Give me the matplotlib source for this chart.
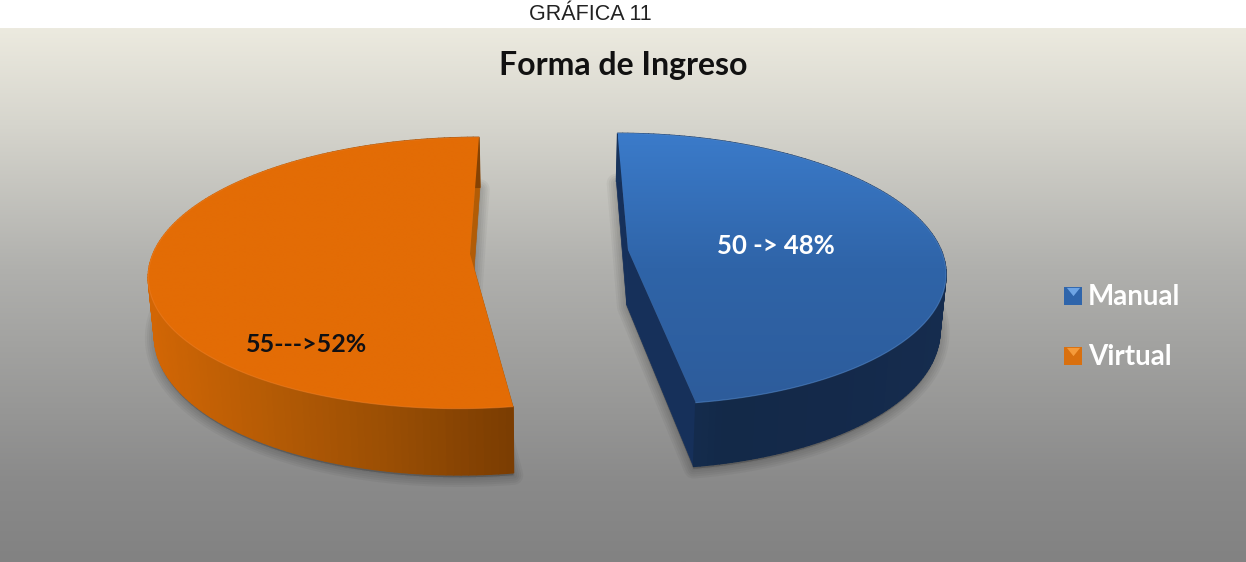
import matplotlib
matplotlib.use("Agg")
import matplotlib.pyplot as plt
import numpy as np
from matplotlib.collections import PolyCollection
from matplotlib.colors import LinearSegmentedColormap
from matplotlib.patches import Polygon

titulo_externo = "GRÁFICA 11"
titulo = "Forma de Ingreso"
categorias = ["Manual", "Virtual"]
valores = [50, 55]
etiquetas = ["50 -> 48%", "55--->52%"]

# perspectiva del pastel
FUGA_X = 543
PERSP = 0.14
ALTO = 133
PROF = 55

centros = [(628, 250), (470, 254)]
radios = [313, 317]
profundidades = [55, 57]
colores_etiqueta = ["white", "#101014"]
pos_etiqueta = [(776, 246), (307, 345)]
tam_etiqueta = [18.5, 18]
pos_leyenda = [296, 356]
MARCA_SOBRE = [(-1, 1), (1, 1), (0, -0.25)]


def proyectar(cx, cy, a, theta, r=1.0, prof=0.0):
    u = r * np.sin(theta)
    v = r * np.cos(theta)
    k = 1 / (1 + PERSP * v)
    esc = 1 - 0.015 * (prof / PROF)
    x = FUGA_X + (cx - FUGA_X + a * u) * k * esc
    y = cy + (-ALTO * v + prof) * k
    return x, y


def borde_superior(cx, cy, a, t0, t1, prof=0.0):
    theta = np.linspace(t0, t1, 160)
    x, y = proyectar(cx, cy, a, theta, prof=prof)
    ax0, ay0 = proyectar(cx, cy, a, 0.0, r=0.0, prof=prof)
    return np.column_stack([x, y]), np.array([ax0, ay0])


def relleno_gradiente(ax, cmap, extent, vertical=True, clip=None, zorder=1):
    n = np.linspace(0, 1, 256)
    img = n[:, None] if vertical else n[None, :]
    im = ax.imshow(img, cmap=cmap, extent=extent, aspect="auto", zorder=zorder,
                   vmin=0, vmax=1, interpolation="bilinear", origin="upper")
    if clip is not None:
        im.set_clip_path(clip)
    return im


fig = plt.figure(figsize=(12.46, 5.62), dpi=100)
ax = fig.add_axes([0, 0, 1, 1])

cm_fondo = LinearSegmentedColormap.from_list(
    "fondo", [(0, "#ecEAdf"), (0.18, "#d6d5cd"), (0.45, "#b0b0ad"), (0.85, "#8a8a8a"), (1, "#828282")])
relleno_gradiente(ax, cm_fondo, (0, 1246, 562, 28), zorder=0)

cm_azul = LinearSegmentedColormap.from_list("azul", ["#3b7bca", "#2f64a8", "#2d5c9b"])
cm_naranja = LinearSegmentedColormap.from_list("naranja", ["#e36c05", "#e36c05"])
cm_pared_azul = LinearSegmentedColormap.from_list("pared_azul", ["#17335c", "#132948", "#14294a", "#152c4e"])
cm_pared_naranja = LinearSegmentedColormap.from_list("pared_naranja", ["#d26605", "#b55b05", "#9a4e04", "#7b3d02"])

mapas_top = [cm_azul, cm_naranja]
mapas_pared = [cm_pared_azul, cm_pared_naranja]
colores_radial = ["#16305a", "#b25c06"]
colores_borde = ["#5c93d6", "#f0812a"]

angulos = np.cumsum([0] + valores) / sum(valores) * 2 * np.pi

for i in range(len(valores)):
    cx, cy = centros[i]
    a = radios[i]
    d = profundidades[i]
    t0, t1 = angulos[i], angulos[i + 1]

    arco, apice = borde_superior(cx, cy, a, t0, t1)
    arco_b, apice_b = borde_superior(cx, cy, a, t0, t1, prof=d)
    arco_s, apice_s = borde_superior(cx, cy, a, t0, t1, prof=d + 2)

    # sombra difusa
    forma_s = np.vstack([apice_s, arco_s])
    for lw in [14, 11, 8, 5, 2]:
        ax.add_patch(Polygon(forma_s, closed=True, facecolor=(0, 0, 0, 0.04),
                             edgecolor=(0, 0, 0, 0.04), lw=lw, zorder=2, joinstyle="round"))

    # paredes rectas
    for extremo, extremo_b in [(arco[0], arco_b[0]), (arco[-1], arco_b[-1])]:
        ax.add_patch(Polygon([apice, extremo, extremo_b, apice_b], closed=True,
                             facecolor=colores_radial[i], edgecolor=colores_radial[i], lw=0.5, zorder=3))

    # pared curva
    cuads = [[arco[j], arco[j + 1], arco_b[j + 1], arco_b[j]] for j in range(len(arco) - 1)]
    xs = arco[:-1, 0]
    col = PolyCollection(cuads, cmap=mapas_pared[i], zorder=4)
    col.set_array((xs - xs.min()) / (xs.max() - xs.min()))
    col.set_edgecolor("face")
    col.set_linewidth(1.0)
    ax.add_collection(col)

    # cara superior
    forma = np.vstack([apice, arco])
    borde = Polygon(forma, closed=True, facecolor="none", edgecolor="none", transform=ax.transData)
    ax.add_patch(borde)
    relleno_gradiente(ax, mapas_top[i], (forma[:, 0].min(), forma[:, 0].max(), forma[:, 1].max(), forma[:, 1].min()),
                      clip=borde, zorder=5)
    ax.plot(arco[:, 0], arco[:, 1], color=colores_borde[i], lw=0.8, alpha=0.5, zorder=6)

    ax.text(pos_etiqueta[i][0], pos_etiqueta[i][1], etiquetas[i], color=colores_etiqueta[i],
            fontsize=tam_etiqueta[i], fontfamily="Lato", fontweight="bold", ha="center", va="center", zorder=7)

# leyenda
colores_ley = ["#2f65ab", "#d9700f"]
colores_sobre = ["#6ea4e4", "#f59a3a"]
for i, nombre in enumerate(categorias):
    y = pos_leyenda[i]
    ax.scatter([1073], [y], marker="s", s=150, color=colores_ley[i], zorder=7, linewidths=0)
    ax.scatter([1073], [y - 2], marker=MARCA_SOBRE, s=90, color=colores_sobre[i], zorder=8, linewidths=0)
    ax.text(1088, y + 1, nombre, color="white", fontsize=20, fontfamily="Lato", fontweight="bold",
            va="center", ha="left", zorder=7)

ax.text(623, 65, titulo, color="#111111", fontsize=23, fontfamily="Lato", fontweight="bold",
        ha="center", va="center", zorder=7)
ax.text(590, 14, titulo_externo, color="#222222", fontsize=15.5, fontfamily="Liberation Sans",
        ha="center", va="center", zorder=7)

ax.set_xlim(0, 1246)
ax.set_ylim(562, 0)
ax.axis("off")
fig.savefig("out.png", dpi=100, facecolor="white")
plt.close(fig)
